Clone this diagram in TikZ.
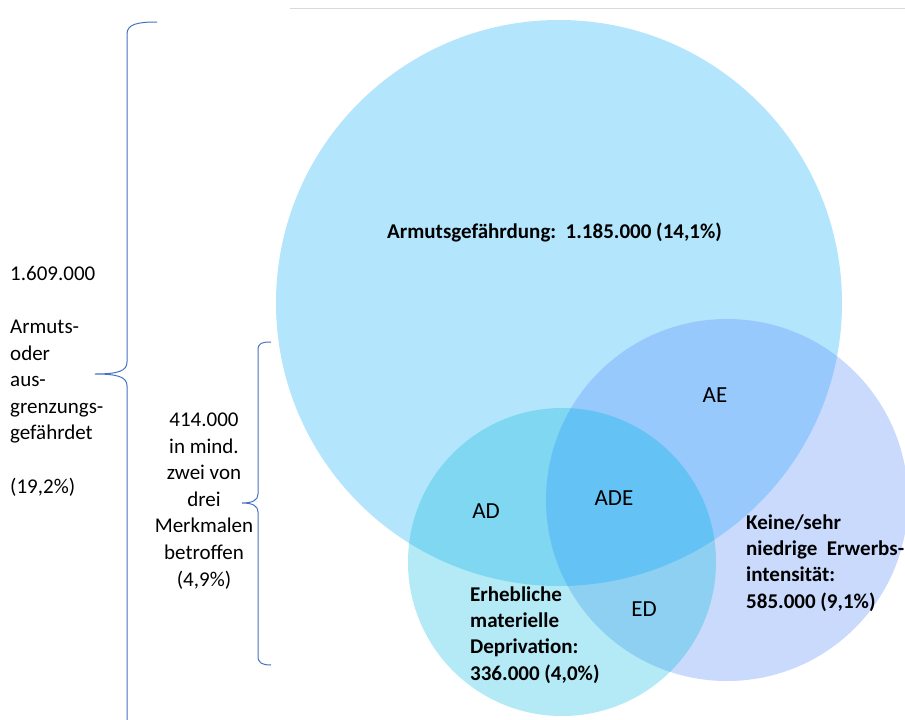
\documentclass[tikz,border=0pt]{standalone}
\usepackage{fontspec}
\setmainfont{Carlito}
\definecolor{cA}{HTML}{B3E5FC}
\definecolor{cD}{HTML}{B3EAF5}
\definecolor{cE}{HTML}{C9DAFD}
\definecolor{cAD}{HTML}{80D7F2}
\definecolor{cAE}{HTML}{97C9FD}
\definecolor{cDE}{HTML}{8ED0F1}
\definecolor{cADE}{HTML}{64C2F4}
\definecolor{braceblue}{HTML}{4472C4}
\definecolor{rulegray}{HTML}{D9D9D9}
\begin{document}
\begin{tikzpicture}[x=1pt,y=-1pt,
  txt/.style={inner sep=0pt,font=\fontsize{21}{26.6}\selectfont},
  bold/.style={inner sep=0pt,font=\fontsize{21}{26.2}\selectfont\bfseries,align=left,anchor=west},
  reg/.style={inner sep=0pt,font=\fontsize{23}{27}\selectfont},
  bracestyle/.style={draw=braceblue,line width=1pt},
  rulestyle/.style={draw=rulegray,line width=1pt}]
\fill[white] (0,0) rectangle (905,720);
\useasboundingbox (0,0) rectangle (905,720);
\coordinate (A0) at (559,303);
\coordinate (D0) at (562,562);
\coordinate (E0) at (727,500);
% base circles
\fill[cA] (A0) circle[radius=283pt];
\fill[cE] (E0) circle[radius=181pt];
\fill[cD] (D0) circle[radius=154pt];
% overlaps
\begin{scope}
  \clip (A0) circle[radius=283pt];
  \fill[cAD] (D0) circle[radius=154pt];
  \fill[cAE] (E0) circle[radius=181pt];
\end{scope}
\begin{scope}
  \clip (D0) circle[radius=154pt];
  \fill[cDE] (E0) circle[radius=181pt];
\end{scope}
\begin{scope}
  \clip (A0) circle[radius=283pt];
  \clip (D0) circle[radius=154pt];
  \fill[cADE] (E0) circle[radius=181pt];
\end{scope}
% top rule
\coordinate (r1) at (290,8);
\coordinate (r2) at (905,8);
\draw[rulestyle] (r1) -- (r2);
% braces
\draw[bracestyle] (157,22) .. controls (138,22) and (127,24) .. (127,34) -- (127,362)
  .. controls (127,371) and (118,374) .. (95,374)
  .. controls (118,374) and (127,377) .. (127,386) -- (127,730);
\draw[bracestyle] (271,342) .. controls (262,342) and (258,343) .. (258,350) -- (258,494)
  .. controls (258,500) and (253,503) .. (242,503)
  .. controls (253,503) and (258,506) .. (258,512) -- (258,656)
  .. controls (258,663) and (262,665) .. (271,665);
% texts
\node[txt,align=left,anchor=west] (total) at (10,381) {1.609.000\\[26.6pt]Armuts-\\oder\\aus-\\grenzungs-\\gefährdet\\[26.6pt](19,2\%)};
\node[txt,align=center] (two) at (204,501) {414.000\\in mind.\\zwei von\\drei\\Merkmalen\\betroffen\\(4,9\%)};
\node[bold] (lA) at (387,232) {Armutsgefährdung:\ \ 1.185.000 (14,1\%)};
\node[bold] (lD) at (470,635) {Erhebliche\\materielle\\Deprivation:\\336.000 (4,0\%)};
\node[bold] (lE) at (746,563) {Keine/sehr\\niedrige\ \ Erwerbs-\\intensität:\\585.000 (9,1\%)};
\node[reg] (AE) at (715,395) {AE};
\node[reg] (AD) at (486,511) {AD};
\node[reg] (ADE) at (614,498) {ADE};
\node[reg] (ED) at (644,609) {ED};
\end{tikzpicture}
\end{document}
